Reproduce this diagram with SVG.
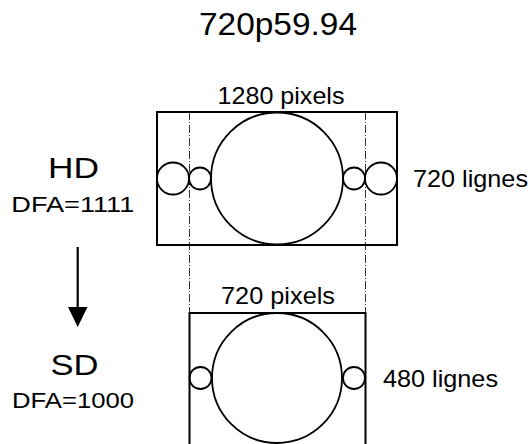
<svg xmlns="http://www.w3.org/2000/svg" width="530" height="444" viewBox="0 0 530 444">
<style>
.t{font-family:"Liberation Sans",Arial,sans-serif;fill:#000}
.frame{fill:none;stroke:#000;stroke-width:2}
.c{fill:none;stroke:#000;stroke-width:1.8}
.guide{stroke:#333;stroke-width:1;stroke-dasharray:8 2 1 2;fill:none}
</style>
<defs>
<marker id="ah" markerWidth="10" markerHeight="10" refX="5" refY="10" orient="auto" markerUnits="userSpaceOnUse" viewBox="0 0 10 10"/>
</defs>
<rect width="530" height="444" fill="#fff"/>
<text class="t" x="278" y="35" font-size="31" text-anchor="middle" textLength="158" lengthAdjust="spacingAndGlyphs">720p59.94</text>
<g id="connectors">
<line class="guide" x1="189.5" y1="112" x2="189.5" y2="313"/>
<line class="guide" x1="365.5" y1="112" x2="365.5" y2="313"/>
<line x1="77.7" y1="247" x2="77.7" y2="309" stroke="#000" stroke-width="2.2"/>
<polygon points="68,307 87.5,307 77.7,327" fill="#000"/>
</g>
<g id="hd-label">
<text class="t" x="73.5" y="178" font-size="30" text-anchor="middle" textLength="51" lengthAdjust="spacingAndGlyphs">HD</text>
<text class="t" x="72.8" y="212" font-size="22" text-anchor="middle" textLength="123" lengthAdjust="spacingAndGlyphs">DFA=1111</text>
</g>
<g id="sd-label">
<text class="t" x="74.5" y="375" font-size="30" text-anchor="middle" textLength="48" lengthAdjust="spacingAndGlyphs">SD</text>
<text class="t" x="73" y="408" font-size="22" text-anchor="middle" textLength="122" lengthAdjust="spacingAndGlyphs">DFA=1000</text>
</g>
<g id="hd-frame">
<rect class="frame" x="157" y="112" width="240" height="133"/>
<circle class="c" cx="277" cy="178.5" r="66"/>
<circle class="c" cx="173" cy="178.5" r="16"/>
<circle class="c" cx="200" cy="178.5" r="11"/>
<circle class="c" cx="354" cy="178.5" r="11"/>
<circle class="c" cx="381" cy="178.5" r="16"/>
<text class="t" x="281" y="104" font-size="24" text-anchor="middle" textLength="127" lengthAdjust="spacingAndGlyphs">1280 pixels</text>
<text class="t" x="413" y="187" font-size="24" textLength="115" lengthAdjust="spacingAndGlyphs">720 lignes</text>
</g>
<g id="sd-frame">
<rect class="frame" x="189.5" y="313" width="176" height="145"/>
<circle class="c" cx="277" cy="378" r="65"/>
<circle class="c" cx="200.5" cy="378" r="11"/>
<circle class="c" cx="354" cy="378" r="11"/>
<text class="t" x="278" y="304" font-size="24" text-anchor="middle" textLength="114" lengthAdjust="spacingAndGlyphs">720 pixels</text>
<text class="t" x="383" y="387" font-size="24" textLength="115" lengthAdjust="spacingAndGlyphs">480 lignes</text>
</g>
</svg>
